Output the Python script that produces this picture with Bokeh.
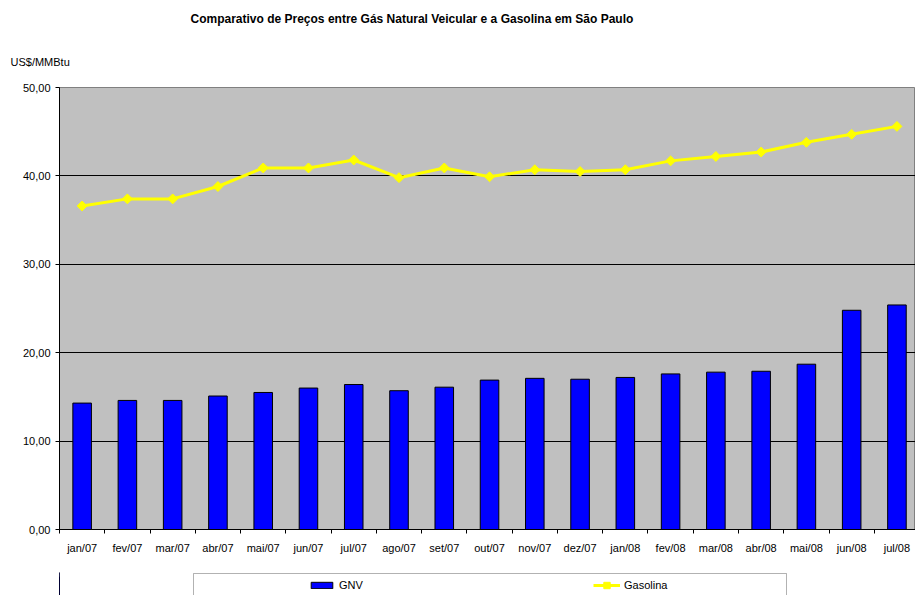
import numpy as np
from bokeh.plotting import figure
from bokeh.layouts import column
from bokeh.models import (Range1d, FixedTicker, Title, Legend, LegendItem,
                          ColumnDataSource, BoxAnnotation)
from bokeh.embed import file_html
from bokeh.resources import INLINE

# ---- data ----
months = ["jan/07", "fev/07", "mar/07", "abr/07", "mai/07", "jun/07", "jul/07",
          "ago/07", "set/07", "out/07", "nov/07", "dez/07", "jan/08", "fev/08",
          "mar/08", "abr/08", "mai/08", "jun/08", "jul/08"]
gnv = [14.3, 14.6, 14.6, 15.1, 15.5, 16.0, 16.4, 15.7, 16.1, 16.9, 17.1, 17.0,
       17.2, 17.6, 17.8, 17.9, 18.7, 24.8, 25.4]
gasolina = [36.6, 37.4, 37.4, 38.8, 40.9, 40.9, 41.8, 39.8, 40.9, 39.9, 40.7, 40.5,
            40.7, 41.7, 42.2, 42.7, 43.8, 44.7, 45.6]
y_ticks = [0, 10, 20, 30, 40, 50]
y_tick_labels = ["0,00", "10,00", "20,00", "30,00", "40,00", "50,00"]
series_names = ["GNV", "Gasolina"]
title_text = "Comparativo de Preços entre Gás Natural Veicular e a Gasolina em São Paulo"
unit_text = "US$/MMBtu"

FONT = "Liberation Sans"
BAR_COLOR = "#0000FF"
LINE_COLOR = "#FFFF00"

x_centers = [i + 0.5 for i in range(len(months))]
src = ColumnDataSource(dict(x=x_centers, gnv=gnv, gas=gasolina))

p = figure(width=915, height=572, output_backend="svg", toolbar_location=None,
           x_range=Range1d(0, 18.91), y_range=Range1d(0, 50),
           min_border_left=59, min_border_right=0, min_border_top=87,
           min_border_bottom=43,
           background_fill_color="#C0C0C0", border_fill_color="white",
           outline_line_color="#808080", outline_line_width=1)
p.title.visible = False

# axes
xax = p.xaxis[0]
xax.ticker = FixedTicker(ticks=x_centers, minor_ticks=list(range(len(months) + 1)))
xax.major_label_overrides = {x: m for x, m in zip(x_centers, months)}
xax.major_tick_out = 0
xax.major_tick_in = 0
xax.minor_tick_out = 4
xax.minor_tick_in = 0
xax.minor_tick_line_color = "black"
xax.axis_line_color = "black"
xax.major_label_standoff = 8
xax.major_label_text_font = FONT
xax.major_label_text_font_size = "11px"
xax.major_label_text_color = "black"

yax = p.yaxis[0]
yax.ticker = FixedTicker(ticks=y_ticks)
yax.major_label_overrides = {t: l for t, l in zip(y_ticks, y_tick_labels)}
yax.major_tick_out = 4
yax.major_tick_in = 0
yax.minor_tick_line_color = None
yax.major_tick_line_color = "black"
yax.axis_line_color = "black"
yax.major_label_standoff = 5
yax.major_label_text_font = FONT
yax.major_label_text_font_size = "11px"
yax.major_label_text_color = "black"

p.xgrid.visible = False
p.ygrid.ticker = FixedTicker(ticks=y_ticks)
p.ygrid.grid_line_color = "black"
p.ygrid.grid_line_width = 1

# glyphs
p.vbar(x="x", top="gnv", width=0.41, source=src,
       fill_color=BAR_COLOR, line_color="black", line_width=1)
p.line(x="x", y="gas", source=src, line_color=LINE_COLOR, line_width=3)
p.scatter(x="x", y="gas", source=src, marker="square", angle=np.pi / 4,
          size=7, fill_color=LINE_COLOR, line_color=LINE_COLOR)

# titles (first added sits nearest the frame)
p.add_layout(Title(text=unit_text, align="left", offset=-49, standoff=40,
                   text_font=FONT, text_font_size="11px", text_font_style="normal",
                   text_color="black"), "above")
p.add_layout(Title(text=title_text, align="left", offset=131, standoff=16,
                   text_font=FONT, text_font_size="12px", text_font_style="bold",
                   text_color="black"), "above")

# ---- legend strip under the chart (its frame is aligned with the chart's) ----
pl = figure(width=915, height=23, output_backend="svg", toolbar_location=None,
            x_range=Range1d(59, 915), y_range=Range1d(0, 23),
            x_axis_type=None, y_axis_type=None,
            min_border_left=59, min_border_right=0, min_border_top=0,
            min_border_bottom=0, outline_line_color=None,
            background_fill_color="white", border_fill_color="white")
pl.title.visible = False
pl.extra_x_ranges = {"off": Range1d(1000, 1001)}
pl.add_layout(BoxAnnotation(left=193, right=786, top=22, bottom=-10,
                            fill_alpha=0, line_color="black", line_width=1))
# legend swatches: same series, mapped outside the visible strip
lb = pl.vbar(x="x", top="gnv", width=0.41, source=src, x_range_name="off",
             fill_color=BAR_COLOR, line_color="black", line_width=1)
ll = pl.line(x="x", y="gas", source=src, x_range_name="off",
             line_color=LINE_COLOR, line_width=3)
lp = pl.scatter(x="x", y="gas", source=src, x_range_name="off",
                marker="square", angle=np.pi / 4, size=7,
                fill_color=LINE_COLOR, line_color=LINE_COLOR)

common = dict(orientation="horizontal", padding=0, margin=0, glyph_width=27,
              label_height=12, label_standoff=4, border_line_color=None,
              background_fill_alpha=0, label_text_font=FONT,
              label_text_font_size="11px", label_text_color="black")
legend_gnv = Legend(items=[LegendItem(label=series_names[0], renderers=[lb])],
                    location=(249, 4), glyph_height=8, **common)
legend_gas = Legend(items=[LegendItem(label=series_names[1], renderers=[ll, lp])],
                    location=(534, 2.5), glyph_height=16, **common)
pl.add_layout(legend_gnv)
pl.add_layout(legend_gas)

layout = column(p, pl, spacing=0)
open("out.html", "w").write(file_html(layout, INLINE))
